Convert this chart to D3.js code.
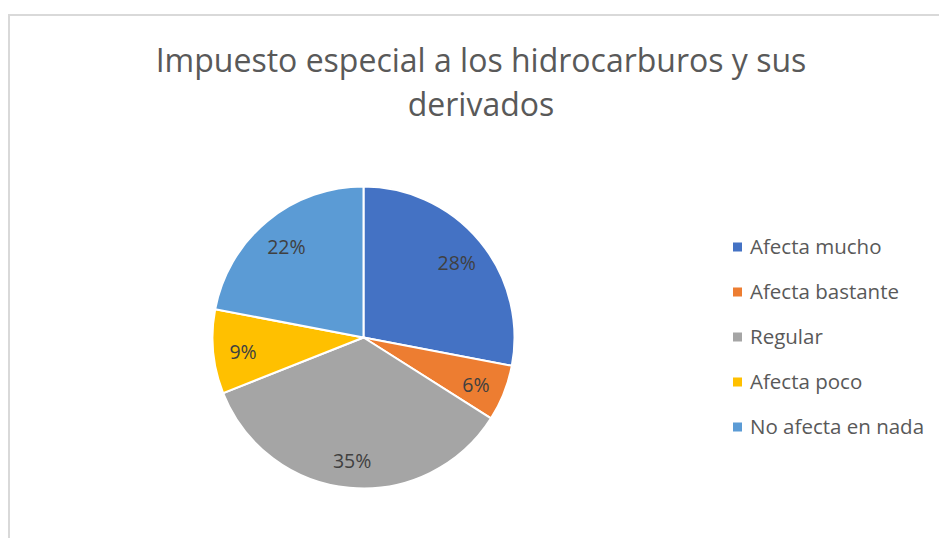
<!DOCTYPE html>
<html><head><meta charset="utf-8">
<script src="https://cdn.jsdelivr.net/npm/d3@7"></script>
<style>body{margin:0;background:#fff}svg{display:block}</style>
</head><body>
<svg id="c" width="939" height="538"></svg>
<script>
const categories = ["Afecta mucho","Afecta bastante","Regular","Afecta poco","No afecta en nada"];
const values = [28, 6, 35, 9, 22];
const colors = ["#4472C4","#ED7D31","#A5A5A5","#FFC000","#5B9BD5"];
const titleLines = ["Impuesto especial a los hidrocarburos y sus","derivados"];

const svg = d3.select("#c");
const font = "'Open Sans', sans-serif";

// chart border
svg.append("path").attr("d","M9,538 L9,15 L939,15").attr("fill","none").attr("stroke","#d9d9d9").attr("stroke-width",2);

// title
svg.append("g").selectAll("text").data(titleLines).join("text")
  .attr("x",481).attr("y",(d,i)=>72+i*44).attr("text-anchor","middle")
  .attr("font-family",font).attr("font-size",32).attr("fill","#595959").text(d=>d);

const cx=363.5, cy=337.5, r=151;
const pie = d3.pie().sort(null).value(d=>d)(values);
const arc = d3.arc().innerRadius(0).outerRadius(r);
const labelArc = d3.arc().innerRadius(121).outerRadius(121);
const g = svg.append("g").attr("transform",`translate(${cx},${cy})`);
g.selectAll("path").data(pie).join("path").attr("d",arc)
  .attr("fill",(d,i)=>colors[i]).attr("stroke","#fff").attr("stroke-width",2);
g.selectAll("text").data(pie).join("text")
  .attr("transform",d=>`translate(${labelArc.centroid(d)})`)
  .attr("text-anchor","middle").attr("dy","0.5em")
  .attr("font-family",font).attr("font-size",19.5).attr("fill","#404040")
  .text(d=>d.data+"%");

// legend
const lg = svg.append("g");
const rows = lg.selectAll("g").data(categories).join("g")
  .attr("transform",(d,i)=>`translate(733,${247+i*45})`);
rows.append("rect").attr("x",0).attr("y",-4.5).attr("width",9).attr("height",9).attr("fill",(d,i)=>colors[i]);
rows.append("text").attr("x",17).attr("dy","0.35em").attr("font-family",font).attr("font-size",20.5)
  .attr("fill","#595959").text(d=>d);
</script>
</body></html>
